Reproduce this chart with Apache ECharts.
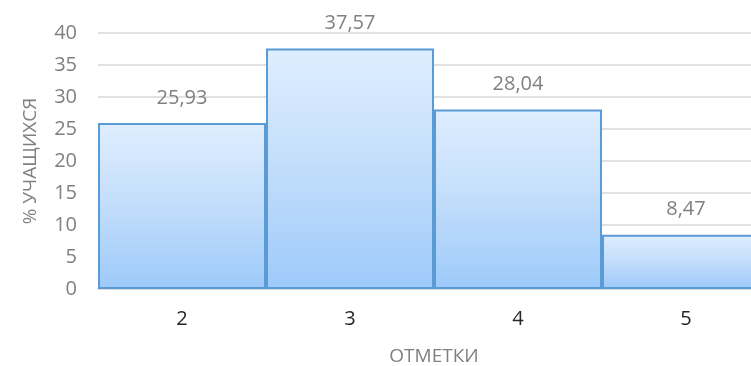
<!DOCTYPE html>
<html>
<head>
<meta charset="utf-8">
<script src="https://cdn.jsdelivr.net/npm/echarts@6/dist/echarts.min.js"></script>
<style>
  html, body { margin: 0; padding: 0; background: #fff; }
  #chart { width: 751px; height: 366px; }
</style>
</head>
<body>
<div id="chart"></div>
<script>
var categories = ['2', '3', '4', '5'];
var percents = [25.93, 37.57, 28.04, 8.47];
var yTicks = { min: 0, max: 40, interval: 5 };

var chart = echarts.init(document.getElementById('chart'));
var font = '"Open Sans", sans-serif';

chart.setOption({
  animation: false,
  grid: { left: 98, top: 33, width: 672, height: 256, outerBoundsMode: 'none', containLabel: false },
  xAxis: {
    type: 'category',
    data: categories,
    name: 'ОТМЕТКИ',
    nameLocation: 'middle',
    nameGap: 58,
    nameTextStyle: { color: '#808080', fontSize: 19, fontFamily: font },
    axisTick: { show: false },
    axisLine: { lineStyle: { color: '#d9d9d9', width: 1.5 } },
    axisLabel: { color: '#262626', fontSize: 20, fontFamily: font, margin: 20 }
  },
  yAxis: {
    type: 'value',
    min: yTicks.min,
    max: yTicks.max,
    interval: yTicks.interval,
    name: '% УЧАЩИХСЯ',
    nameLocation: 'middle',
    nameGap: 58,
    nameTextStyle: { color: '#808080', fontSize: 19, fontFamily: font },
    axisLine: { show: false },
    axisTick: { show: false },
    axisLabel: { color: '#808080', fontSize: 20, fontFamily: font, margin: 21 },
    splitLine: { lineStyle: { color: '#d9d9d9', width: 1.5 } }
  },
  series: [{
    type: 'bar',
    data: percents,
    barCategoryGap: 0,
    itemStyle: {
      color: new echarts.graphic.LinearGradient(0, 0, 0, 1, [
        { offset: 0, color: '#dfeeff' },
        { offset: 0.5, color: '#c2ddfb' },
        { offset: 1, color: '#9dcafa' }
      ]),
      borderColor: '#5b9bd5',
      borderWidth: 2
    },
    label: {
      show: true,
      position: 'top',
      distance: 15,
      color: '#808080',
      fontSize: 20,
      fontFamily: font,
      formatter: function (p) {
        return p.value.toFixed(2).replace('.', ',');
      }
    }
  }]
});
</script>
</body>
</html>
